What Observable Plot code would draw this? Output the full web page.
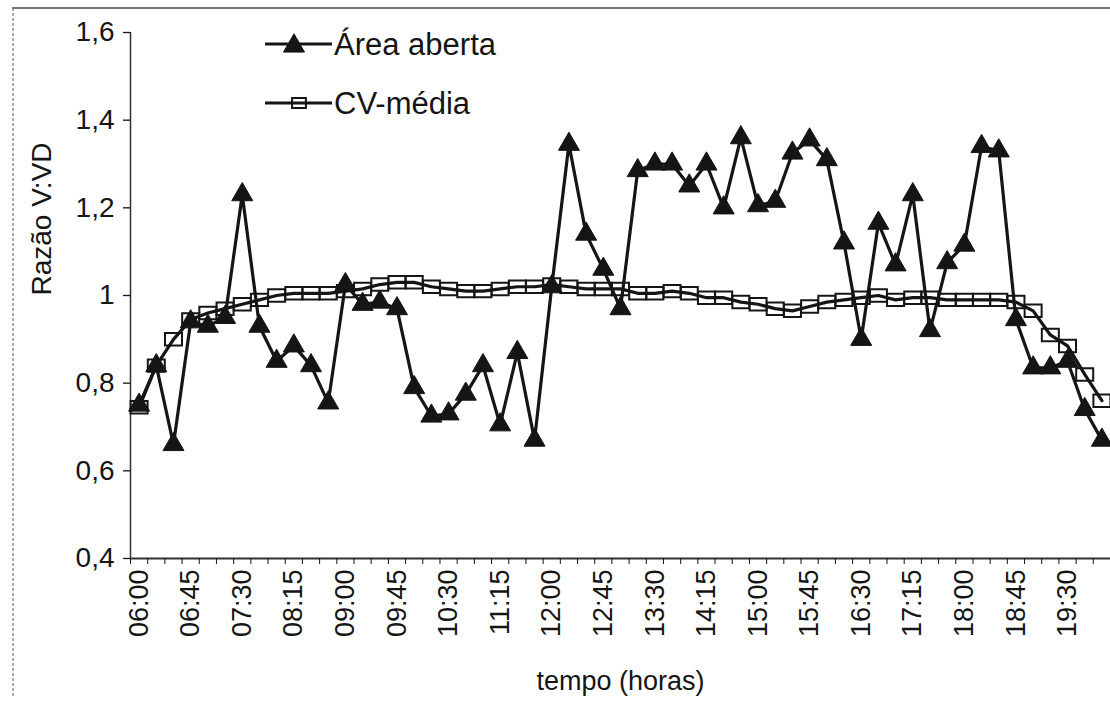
<!DOCTYPE html>
<html><head><meta charset="utf-8">
<script src="https://cdn.jsdelivr.net/npm/d3@7"></script>
<script src="https://cdn.jsdelivr.net/npm/@observablehq/plot@0.6"></script>
<style>body{margin:0;background:#fff;} #chart{position:relative;width:1110px;height:701px;}</style>
</head><body><div id="chart"></div>
<script>
const times = ["06:00","06:15","06:30","06:45","07:00","07:15","07:30","07:45","08:00","08:15","08:30","08:45",
"09:00","09:15","09:30","09:45","10:00","10:15","10:30","10:45","11:00","11:15","11:30","11:45",
"12:00","12:15","12:30","12:45","13:00","13:15","13:30","13:45","14:00","14:15","14:30","14:45",
"15:00","15:15","15:30","15:45","16:00","16:15","16:30","16:45","17:00","17:15","17:30","17:45",
"18:00","18:15","18:30","18:45","19:00","19:15","19:30","19:45","20:00"];

const areaAberta = [0.75,0.84,0.66,0.94,0.93,0.95,1.23,0.93,0.85,0.885,0.84,0.755,
1.025,0.98,0.985,0.97,0.79,0.725,0.73,0.775,0.84,0.705,0.87,0.67,
1.02,1.345,1.14,1.06,0.97,1.285,1.30,1.30,1.25,1.30,1.20,1.36,
1.205,1.215,1.325,1.355,1.31,1.12,0.90,1.165,1.07,1.23,0.92,1.075,
1.115,1.34,1.33,0.945,0.835,0.835,0.85,0.74,0.67];

const cvMedia = [0.745,0.84,0.90,0.945,0.96,0.97,0.98,0.99,1.0,1.005,1.005,1.005,
1.01,1.015,1.025,1.03,1.03,1.02,1.015,1.01,1.01,1.015,1.02,1.02,
1.025,1.02,1.015,1.015,1.015,1.005,1.005,1.01,1.005,0.995,0.995,0.985,
0.98,0.97,0.965,0.975,0.985,0.99,0.995,1.0,0.99,0.995,0.995,0.99,
0.99,0.99,0.99,0.985,0.965,0.91,0.885,0.82,0.76];

const xTickLabels = ["06:00","06:45","07:30","08:15","09:00","09:45","10:30","11:15","12:00","12:45",
"13:30","14:15","15:00","15:45","16:30","17:15","18:00","18:45","19:30"];
const yTicks = [0.4,0.6,0.8,1.0,1.2,1.4,1.6];
const yTickLabels = ["0,4","0,6","0,8","1","1,2","1,4","1,6"];
const seriesNames = ["Área aberta","CV-média"];
const xTitle = "tempo (horas)";
const yTitle = "Razão V:VD";

const chartData = times.map((t, i) => ({i, t, a: areaAberta[i], c: cvMedia[i]}));
const labelIdx = xTickLabels.map(l => times.indexOf(l));
const boundaries = d3.range(-0.5, times.length, 1);
const yLabelMap = new Map(yTicks.map((v, k) => [v, yTickLabels[k]]));

const rectSymbol = {draw(ctx, size) {
  const s = Math.sqrt(size); const w = s * 1.2, h = s * 0.88;
  ctx.moveTo(-w/2, -h/2); ctx.lineTo(w/2, -h/2); ctx.lineTo(w/2, h/2); ctx.lineTo(-w/2, h/2); ctx.closePath();
}};

const ink = "#151515";
const chart = Plot.plot({
  width: 1110, height: 701,
  marginLeft: 130, marginRight: 0, marginTop: 32, marginBottom: 143,
  style: {fontFamily: "'Liberation Sans', Arial, sans-serif", fontSize: "28px", background: "white", color: ink},
  x: {type: "linear", domain: [-0.5, times.length - 0.5], axis: null},
  y: {domain: [0.4, 1.6], axis: null},
  marks: [
    Plot.ruleX([-0.5], {stroke: "#333", strokeWidth: 1.5}),
    Plot.ruleY([0.4], {stroke: "#333", strokeWidth: 1.8}),
    Plot.axisY(yTicks, {tickFormat: d => yLabelMap.get(d), tickSize: 7, tickPadding: 9, fontSize: 28, label: null, strokeWidth: 1.3}),
    Plot.axisX(boundaries, {tickSize: 6, tickFormat: () => "", label: null, strokeWidth: 1}),
    Plot.axisX(labelIdx, {tickSize: 0, tickPadding: 11, tickRotate: -90, tickFormat: i => times[i], fontSize: 27, label: null}),
    Plot.text([xTitle], {frameAnchor: "bottom", dy: 131, fontSize: 27, fill: ink}),
    Plot.text([yTitle], {frameAnchor: "left", dx: -88, rotate: -90, fontSize: 28, fill: ink}),
    Plot.line(chartData, {x: "i", y: "c", stroke: ink, strokeWidth: 3.2}),
    Plot.dot(chartData, {x: "i", y: "c", symbol: rectSymbol, r: 8, stroke: ink, strokeWidth: 2, fill: "none"}),
    Plot.line(chartData, {x: "i", y: "a", stroke: ink, strokeWidth: 3.2}),
    Plot.dot(chartData, {x: "i", y: "a", symbol: "triangle", r: 7.8, fill: ink, stroke: ink, strokeWidth: 1})
  ]
});
document.getElementById("chart").appendChild(chart);

// figure border & legend
const svg = d3.select(chart);
const g = svg.append("g");
g.append("line").attr("x1", 12).attr("x2", 1110).attr("y1", 8).attr("y2", 8).attr("stroke", "#444").attr("stroke-width", 1.5);
g.append("line").attr("x1", 13).attr("x2", 13).attr("y1", 8).attr("y2", 697).attr("stroke", "#777").attr("stroke-width", 1.2).attr("stroke-dasharray", "3,2");

const leg = svg.append("g").attr("font-family", "'Liberation Sans', Arial, sans-serif").attr("font-size", 31)
  .attr("fill", ink).attr("text-anchor", "start");
const rows = [{y: 44, sym: d3.symbolTriangle, name: seriesNames[0]}, {y: 103, sym: rectSymbol, name: seriesNames[1]}];
rows.forEach((r, k) => {
  leg.append("line").attr("x1", 265).attr("x2", 332).attr("y1", r.y).attr("y2", r.y).attr("stroke", ink).attr("stroke-width", 3.2);
  leg.append("path").attr("transform", `translate(${k === 0 ? 294 : 299},${r.y + (k === 0 ? 2 : 0)})`)
    .attr("d", d3.symbol(r.sym, k === 0 ? Math.PI * 7.8 * 7.8 : Math.PI * 6.5 * 6.5)())
    .attr("fill", k === 0 ? ink : "none").attr("stroke", ink).attr("stroke-width", k === 0 ? 1 : 2);
  leg.append("text").attr("x", 334).attr("y", r.y + 11).attr("text-anchor", "start").text(r.name);
});
</script>
</body></html>
